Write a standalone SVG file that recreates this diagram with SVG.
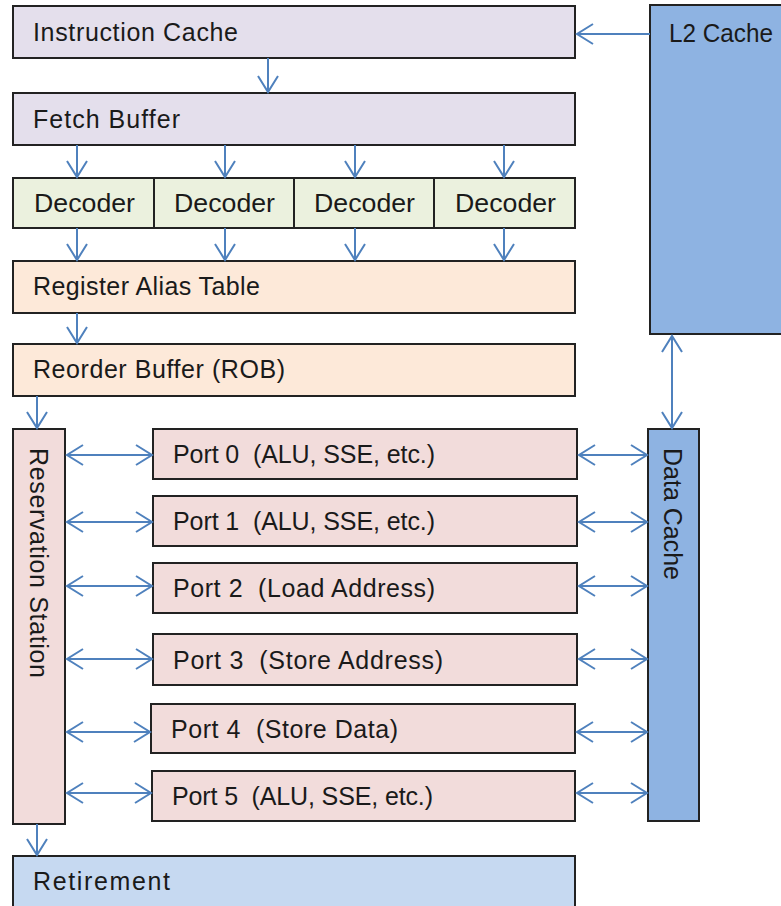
<svg xmlns="http://www.w3.org/2000/svg" width="781" height="906" viewBox="0 0 781 906">
<style>
.box{stroke:#222;stroke-width:2}
.lav{fill:#E4DFEC}
.grn{fill:#EBF1DE}
.org{fill:#FDE9D9}
.pnk{fill:#F2DCDB}
.blu{fill:#8EB3E2}
.lbl{fill:#C6D9F1}
text{font-family:"Liberation Sans",Arial,sans-serif;font-size:25px;fill:#1a1a1a;white-space:pre}
.c{stroke:#4F81BD;stroke-width:2;fill:none}
</style>
<defs>
<marker id="ah" viewBox="-18 -12 20 24" markerWidth="20" markerHeight="24" refX="0" refY="0" markerUnits="userSpaceOnUse" orient="auto-start-reverse">
<path d="M -16 -10 L 0 0 L -16 10" fill="none" stroke="#4F81BD" stroke-width="2"/>
</marker>
</defs>

<g id="l2cache"><rect class="box blu" x="650" y="5" width="140" height="329"/><text x="669" y="42" textLength="104" lengthAdjust="spacingAndGlyphs">L2 Cache</text></g>
<g id="icache"><rect class="box lav" x="13" y="6" width="562" height="52"/><text x="33" y="41" textLength="205" lengthAdjust="spacing">Instruction Cache</text></g>
<g id="fetch"><rect class="box lav" x="13" y="93" width="562" height="52"/><text x="33" y="128" textLength="147" lengthAdjust="spacing">Fetch Buffer</text></g>
<g id="dec1"><rect class="box grn" x="13" y="178" width="141" height="50"/><text x="34" y="212" textLength="101" lengthAdjust="spacingAndGlyphs">Decoder</text></g>
<g id="dec2"><rect class="box grn" x="154" y="178" width="140" height="50"/><text x="174" y="212" textLength="101" lengthAdjust="spacingAndGlyphs">Decoder</text></g>
<g id="dec3"><rect class="box grn" x="294" y="178" width="140" height="50"/><text x="314" y="212" textLength="101" lengthAdjust="spacingAndGlyphs">Decoder</text></g>
<g id="dec4"><rect class="box grn" x="434" y="178" width="141" height="50"/><text x="455" y="212" textLength="101" lengthAdjust="spacingAndGlyphs">Decoder</text></g>
<g id="rat"><rect class="box org" x="13" y="261" width="562" height="52"/><text x="33" y="295" textLength="227" lengthAdjust="spacing">Register Alias Table</text></g>
<g id="rob"><rect class="box org" x="13" y="344" width="562" height="52"/><text x="33" y="378" textLength="252" lengthAdjust="spacing">Reorder Buffer (ROB)</text></g>
<g id="rs"><rect class="box pnk" x="13" y="429" width="52" height="395"/><text transform="translate(30 448) rotate(90)" x="0" y="0" textLength="230" lengthAdjust="spacing">Reservation Station</text></g>
<g id="dcache"><rect class="box blu" x="648" y="429" width="51" height="392"/><text transform="translate(664 448) rotate(90)" x="0" y="0" textLength="132" lengthAdjust="spacing">Data Cache</text></g>
<g id="port0"><rect class="box pnk" x="153" y="429" width="424" height="50"/><text x="173" y="463" textLength="262" lengthAdjust="spacing">Port 0  (ALU, SSE, etc.)</text></g>
<g id="port1"><rect class="box pnk" x="153" y="496" width="424" height="50"/><text x="173" y="530" textLength="262" lengthAdjust="spacing">Port 1  (ALU, SSE, etc.)</text></g>
<g id="port2"><rect class="box pnk" x="153" y="563" width="424" height="50"/><text x="173" y="597" textLength="262" lengthAdjust="spacing">Port 2  (Load Address)</text></g>
<g id="port3"><rect class="box pnk" x="153" y="634" width="424" height="51"/><text x="173" y="669" textLength="270" lengthAdjust="spacing">Port 3  (Store Address)</text></g>
<g id="port4"><rect class="box pnk" x="151" y="704" width="424" height="49"/><text x="171" y="738" textLength="227" lengthAdjust="spacing">Port 4  (Store Data)</text></g>
<g id="port5"><rect class="box pnk" x="152" y="771" width="423" height="50"/><text x="172" y="805" textLength="261" lengthAdjust="spacing">Port 5  (ALU, SSE, etc.)</text></g>
<g id="retire"><rect class="box lbl" x="13" y="856" width="562" height="60"/><text x="33" y="890" textLength="137" lengthAdjust="spacing">Retirement</text></g>

<g id="connectors">
<path class="c" d="M650 34 H577" marker-end="url(#ah)"/>
<path class="c" d="M268 58 V92" marker-end="url(#ah)"/>
<path class="c" d="M77 145 V177" marker-end="url(#ah)"/>
<path class="c" d="M225 145 V177" marker-end="url(#ah)"/>
<path class="c" d="M355 145 V177" marker-end="url(#ah)"/>
<path class="c" d="M504 145 V177" marker-end="url(#ah)"/>
<path class="c" d="M77 228 V260" marker-end="url(#ah)"/>
<path class="c" d="M225 228 V260" marker-end="url(#ah)"/>
<path class="c" d="M355 228 V260" marker-end="url(#ah)"/>
<path class="c" d="M504 228 V260" marker-end="url(#ah)"/>
<path class="c" d="M77 313 V343" marker-end="url(#ah)"/>
<path class="c" d="M37 396 V428" marker-end="url(#ah)"/>
<path class="c" d="M37 824 V855" marker-end="url(#ah)"/>
<path class="c" d="M672 336 V428" marker-start="url(#ah)" marker-end="url(#ah)"/>
<path class="c" d="M67 455 H152" marker-start="url(#ah)" marker-end="url(#ah)"/>
<path class="c" d="M67 522 H152" marker-start="url(#ah)" marker-end="url(#ah)"/>
<path class="c" d="M67 586 H152" marker-start="url(#ah)" marker-end="url(#ah)"/>
<path class="c" d="M67 659 H152" marker-start="url(#ah)" marker-end="url(#ah)"/>
<path class="c" d="M67 732 H150" marker-start="url(#ah)" marker-end="url(#ah)"/>
<path class="c" d="M67 793 H151" marker-start="url(#ah)" marker-end="url(#ah)"/>
<path class="c" d="M579 455 H647" marker-start="url(#ah)" marker-end="url(#ah)"/>
<path class="c" d="M579 522 H647" marker-start="url(#ah)" marker-end="url(#ah)"/>
<path class="c" d="M579 586 H647" marker-start="url(#ah)" marker-end="url(#ah)"/>
<path class="c" d="M579 659 H647" marker-start="url(#ah)" marker-end="url(#ah)"/>
<path class="c" d="M577 732 H647" marker-start="url(#ah)" marker-end="url(#ah)"/>
<path class="c" d="M577 793 H647" marker-start="url(#ah)" marker-end="url(#ah)"/>
</g>
</svg>
